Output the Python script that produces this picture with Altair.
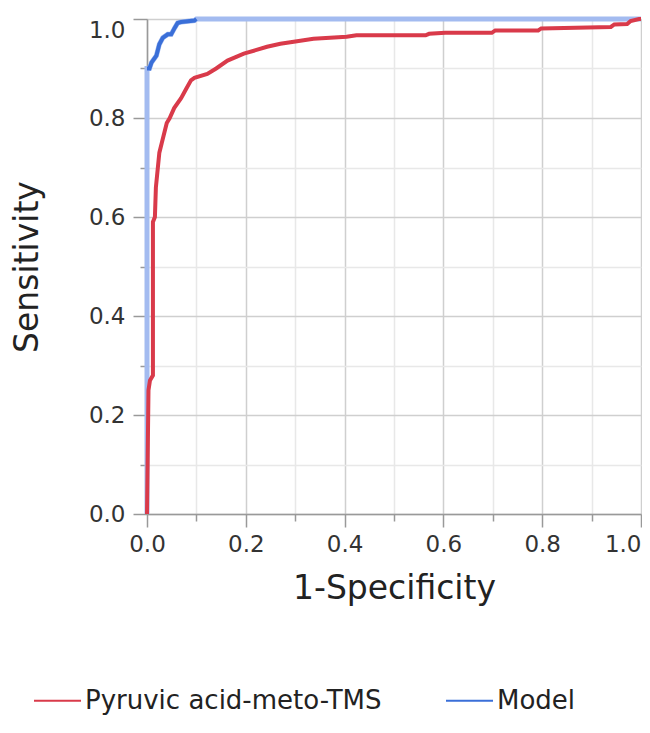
import altair as alt
import pandas as pd

# ROC curve points (1-Specificity, Sensitivity)
red_x = [0.0, 0.003, 0.006, 0.012, 0.012, 0.016, 0.018, 0.022, 0.025, 0.030, 0.040,
         0.046, 0.055, 0.069, 0.080, 0.089, 0.096, 0.122, 0.140, 0.163, 0.196, 0.220,
         0.243, 0.270, 0.297, 0.337, 0.404, 0.424, 0.564, 0.571, 0.604, 0.698, 0.705,
         0.792, 0.798, 0.939, 0.946, 0.972, 0.979, 0.996, 1.0]
red_y = [0.0, 0.25, 0.27, 0.28, 0.59, 0.60, 0.66, 0.70, 0.73, 0.75, 0.79,
         0.80, 0.82, 0.84, 0.86, 0.876, 0.881, 0.889, 0.90, 0.916, 0.93, 0.937,
         0.944, 0.95, 0.954, 0.96, 0.964, 0.967, 0.967, 0.97, 0.972, 0.972, 0.977,
         0.977, 0.981, 0.984, 0.989, 0.99, 0.996, 1.0, 1.0]

model_x = [0.0, 0.0, 0.005, 0.009, 0.019, 0.025, 0.032, 0.042, 0.049, 0.056, 0.062,
           0.069, 0.096, 0.100, 1.0]
model_y = [0.0, 0.90, 0.90, 0.912, 0.926, 0.949, 0.962, 0.969, 0.969, 0.982, 0.992,
           0.994, 0.997, 1.0, 1.0]

series_names = ["Pyruvic acid-meto-TMS", "Model"]
series_colors = ["#d93a4a", "#3a6fd8"]
tick_values = [0.0, 0.1, 0.2, 0.3, 0.4, 0.5, 0.6, 0.7, 0.8, 0.9, 1.0]

red_df = pd.DataFrame({"x": red_x, "y": red_y, "series": series_names[0],
                       "i": list(range(len(red_x)))})
model_df = pd.DataFrame({"x": model_x, "y": model_y, "series": series_names[1],
                         "i": list(range(len(model_x)))})

FONT = "DejaVu Sans"
major = "round(datum.value*10) % 2 == 0"

x_axis = alt.Axis(
    values=tick_values,
    labelExpr="round(datum.value*10) % 2 == 0 ? format(datum.value, '.1f') : ''",
    grid=True,
    gridColor={"condition": {"test": major, "value": "#cfcfcf"}, "value": "#e8e8e8"},
    gridWidth=1.5,
    tickSize={"condition": {"test": major, "value": 13}, "value": 7},
    tickColor="#999999", tickWidth=1.5,
    domainColor="#999999", domainWidth=1.5,
    labelFont=FONT, labelFontSize=23, labelColor="#333333", labelPadding=6,
    labelAlign={"condition": {"test": "datum.value >= 1", "value": "right"}, "value": "center"},
    title="1-Specificity", titleFont=FONT, titleFontSize=33, titleFontWeight="normal",
    titleColor="#222222", titleBaseline="alphabetic", titleY=84,
)
y_axis = alt.Axis(
    values=tick_values,
    labelExpr="round(datum.value*10) % 2 == 0 ? format(datum.value, '.1f') : ''",
    grid=True,
    gridColor={"condition": {"test": major, "value": "#cfcfcf"}, "value": "#e8e8e8"},
    gridWidth=1.5,
    tickSize={"condition": {"test": major, "value": 14}, "value": 7},
    tickColor="#999999", tickWidth=1.5,
    domainColor="#999999", domainWidth=1.5,
    labelFont=FONT, labelFontSize=23, labelColor="#333333", labelPadding=8,
    labelBaseline={"condition": {"test": "datum.value >= 1", "value": "top"}, "value": "middle"},
    title="Sensitivity", titleFont=FONT, titleFontSize=33, titleFontWeight="normal",
    titleColor="#222222", titleBaseline="middle", titleX=-120, titleAngle=-90,
)

xs = alt.Scale(domain=[0, 1], nice=False, zero=False)
ys = alt.Scale(domain=[0, 1], nice=False, zero=False)
color_scale = alt.Scale(domain=series_names, range=series_colors)

legend = alt.Legend(
    title=None, orient="none", legendX=-114, legendY=657, direction="horizontal",
    symbolType="stroke", symbolSize=2209, symbolStrokeWidth=2,
    labelFont=FONT, labelFontSize=26, labelColor="#222222", labelLimit=500,
    labelOffset=3, columnPadding=60, padding=0,
)

light = alt.Chart(model_df).mark_line(color="#a3bbf0", strokeWidth=5, clip=False).encode(
    x=alt.X("x:Q", scale=xs, axis=x_axis),
    y=alt.Y("y:Q", scale=ys, axis=y_axis),
    order="i:Q",
)

red = alt.Chart(red_df).mark_line(strokeWidth=4).encode(
    x=alt.X("x:Q", scale=xs),
    y=alt.Y("y:Q", scale=ys),
    color=alt.Color("series:N", scale=color_scale, legend=legend),
    order="i:Q",
)

dark = alt.Chart(model_df).transform_filter(
    "datum.i >= 1 && datum.i <= 13"
).mark_line(strokeWidth=4).encode(
    x=alt.X("x:Q", scale=xs),
    y=alt.Y("y:Q", scale=ys),
    color=alt.Color("series:N", scale=color_scale, legend=legend),
    order="i:Q",
)

chart = alt.layer(light, red, dark).properties(
    width=494, height=495,
    autosize=alt.AutoSizeParams(type="none"),
    padding={"left": 139, "top": 11, "right": 1, "bottom": 204},
).configure_view(stroke=None).configure(background="white")

chart.save("out.html", embed_options={"renderer": "svg", "actions": False})
